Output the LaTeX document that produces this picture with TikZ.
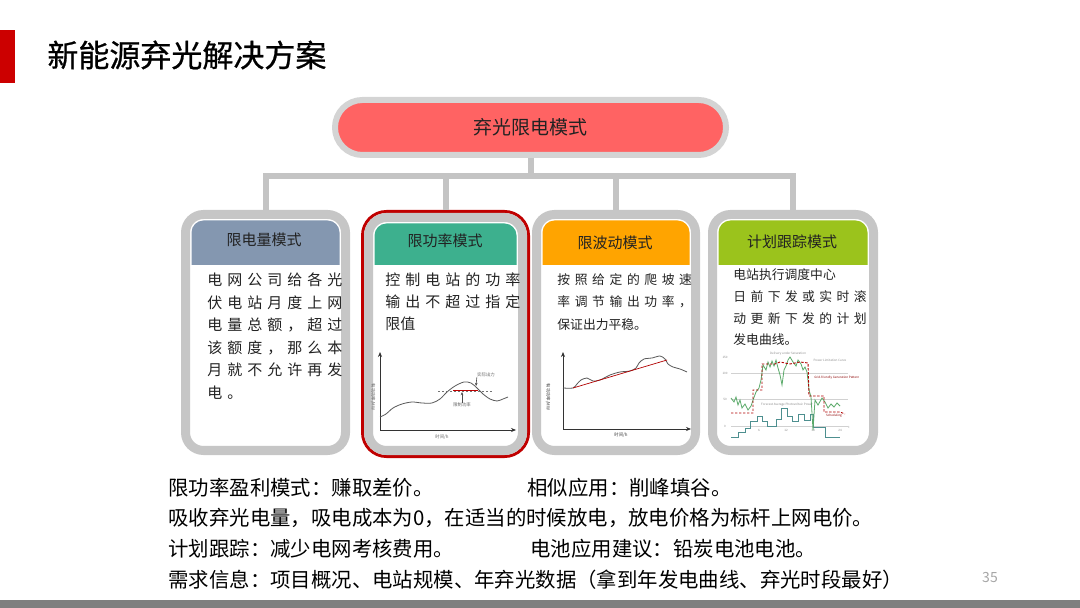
\documentclass[tikz,border=0pt]{standalone}
\usepackage{fontspec}
\setmainfont{Noto Sans CJK SC}
\newfontfamily\titlefont[FakeBold=0.8]{Noto Sans CJK SC}
\usetikzlibrary{arrows.meta,calc}
\definecolor{pillred}{HTML}{FF6363}
\definecolor{pillgray}{HTML}{D4D4D4}
\definecolor{boxgray}{HTML}{C6C6C6}
\definecolor{conngray}{HTML}{C4C4C4}
\definecolor{frameRed}{HTML}{C00000}
\definecolor{hA}{HTML}{8497B0}
\definecolor{hB}{HTML}{3DB08E}
\definecolor{hC}{HTML}{FFA400}
\definecolor{hD}{HTML}{9BC31C}
\definecolor{titlebar}{HTML}{CC0000}
\definecolor{bottombar}{HTML}{7F7F7F}
\definecolor{pagenum}{HTML}{A6A6A6}
\definecolor{txt}{HTML}{222222}
\definecolor{plangreen}{HTML}{5BAA6A}
\definecolor{stepteal}{HTML}{4D8F8F}
\newlength\spw
\def\spreadline#1#2{\spw=#1\relax\spreadi#2\relax}
\def\spreadi#1{\ifx\relax#1\else\makebox[\spw][l]{#1}\expandafter\spreadi\fi}
\begin{document}
\begin{tikzpicture}[x=0.5pt,y=-0.5pt,
  pill/.style={draw=pillgray, fill=pillred, line width=3pt, rounded corners=13.7pt,
    minimum width=195.5pt, minimum height=27.5pt, inner sep=0pt, text=txt,
    font=\fontsize{9.5}{11}\selectfont},
  modebox/.style={draw=boxgray, fill=white, line width=4.5pt, rounded corners=9pt,
    minimum width=#1, minimum height=118pt, inner sep=0pt},
  redframe/.style={draw=frameRed, line width=1.5pt, rounded corners=12pt,
    minimum width=83pt, minimum height=122.5pt, inner sep=0pt},
  conn/.style={draw=conngray, line width=3pt},
  hdrtext/.style={inner sep=0pt, text=txt, font=\fontsize{7.5}{9}\selectfont},
  bodyA/.style={anchor=west, inner sep=0pt, text=txt, font=\fontsize{7.5}{9}\selectfont},
  bodyB/.style={anchor=west, inner sep=0pt, text=txt, font=\fontsize{6.4}{8}\selectfont},
  btext/.style={anchor=west, inner sep=0pt, text=black, font=\fontsize{10.2}{12}\selectfont},
  axis/.style={draw=black!80, line width=0.35pt, -{Stealth[length=2.5pt,width=2pt]}},
  curve/.style={draw=black!65, line width=0.4pt},
  tiny/.style={inner sep=0pt, text=black!60, font=\fontsize{2.2}{2.6}\selectfont},
  micro/.style={inner sep=0pt, text=black!45, font=\fontsize{1.5}{1.8}\selectfont},
  fine dash/.style={dash pattern=on 1.2pt off 0.8pt},
]
\useasboundingbox (0,0) rectangle (1080,608);
% title and page decorations
\fill[titlebar] (0,30) rectangle (15,83);
\node[anchor=west, inner sep=0pt, text=black, font=\titlefont\fontsize{15.5}{18}\selectfont] (title) at (47,55) {新能源弃光解决方案};
\fill[bottombar] (0,600) rectangle (1080,608);
\node[inner sep=0pt, text=pagenum, font=\fontsize{7}{8}\selectfont] (page) at (990,578) {35};

% top node
\node[pill] (top) at (530.5,127.5) {弃光限电模式};

% boxes
\node[modebox=80pt] (b1) at (265.5,332.5) {};
\node[redframe] (b2) at (445.5,334) {};
\node[modebox=77pt, minimum height=116.5pt] (b2in) at (445.5,334) {};
\node[modebox=79.5pt] (b3) at (616,332.5) {};
\node[modebox=80.5pt] (b4) at (793,332.5) {};

% headers
\begin{scope}
\clip[rounded corners=6pt] ($(b1.north west)+(10.5,10.5)$) rectangle ($(b1.south east)+(-10.5,-10.5)$);
\fill[hA] (b1.north west) rectangle (b1.east |- 0,265);
\end{scope}
\begin{scope}
\clip[rounded corners=6pt] ($(b2in.north west)+(10.5,10.5)$) rectangle ($(b2in.south east)+(-10.5,-10.5)$);
\fill[hB] (b2in.north west) rectangle (b2in.east |- 0,265);
\end{scope}
\begin{scope}
\clip[rounded corners=6pt] ($(b3.north west)+(10.5,10.5)$) rectangle ($(b3.south east)+(-10.5,-10.5)$);
\fill[hC] (b3.north west) rectangle (b3.east |- 0,265);
\end{scope}
\begin{scope}
\clip[rounded corners=6pt] ($(b4.north west)+(10.5,10.5)$) rectangle ($(b4.south east)+(-10.5,-10.5)$);
\fill[hD] (b4.north west) rectangle (b4.east |- 0,265);
\end{scope}
\node[hdrtext] (h1) at (264,240) {限电量模式};
\node[hdrtext] (h2) at (445,241) {限功率模式};
\node[hdrtext] (h3) at (615,243) {限波动模式};
\node[hdrtext] (h4) at (792,242) {计划跟踪模式};

% connectors
\coordinate (bar) at (530.5,176);
\draw[conn] (top.south) -- (bar);
\draw[conn] (bar) -| (b1.north);
\draw[conn] (bar) -| (b2.north);
\draw[conn] (bar) -| (b3.north);
\draw[conn] (bar) -| (b4.north);

% body texts box 1
\node[bodyA] (t11) at (207,280) {\spreadline{10pt}{电网公司给各光}};
\node[bodyA] (t12) at (207,302.5) {\spreadline{10pt}{伏电站月度上网}};
\node[bodyA] (t13) at (207,325) {\spreadline{10pt}{电量总额，超过}};
\node[bodyA] (t14) at (207,347.5) {\spreadline{10pt}{该额度，那么本}};
\node[bodyA] (t15) at (207,370) {\spreadline{10pt}{月就不允许再发}};
\node[bodyA] (t16) at (207,392.5) {\spreadline{10pt}{电。}};
% box 2
\node[bodyA] (t21) at (385,280) {\spreadline{10pt}{控制电站的功率}};
\node[bodyA] (t22) at (385,302) {\spreadline{10pt}{输出不超过指定}};
\node[bodyA] (t23) at (385,324) {限值};
% box 3
\node[bodyB] (t31) at (557,280) {\spreadline{8.7pt}{按照给定的爬坡速}};
\node[bodyB] (t32) at (557,302) {\spreadline{8.7pt}{率调节输出功率，}};
\node[bodyB] (t33) at (557,325) {保证出力平稳。};
% box 4
\node[bodyB] (t41) at (733,275) {电站执行调度中心};
\node[bodyB] (t42) at (733,297) {\spreadline{8.6pt}{日前下发或实时滚}};
\node[bodyB] (t43) at (733,318.5) {\spreadline{8.6pt}{动更新下发的计划}};
\node[bodyB] (t44) at (733,340) {发电曲线。};

% chart box 2
\draw[axis] (380,430) -- (380,352);
\draw[axis] (380,430) -- (516,430);
\draw[curve] plot[smooth] coordinates {(380,417) (386,414) (393,408) (402,404) (412,402) (422,403) (432,403) (440,399) (447,392) (455,386) (464,382) (471,383) (477,388) (483,394) (490,399) (497,401) (503,399) (508,397)};
\draw[fine dash, black!55, line width=0.3pt] (438,391) -- (493,391);
\draw[draw=red!75!black, line width=0.5pt] (453,391) -- (478,391);
\node[tiny] (l21) at (486,375) {实际出力};
\node[tiny] (l22) at (462,405) {限制功率};
\draw[black!70, line width=0.3pt, -{Stealth[length=1.6pt,width=1.3pt]}] (l21.south west) -- (476,386);
\draw[black!70, line width=0.3pt, -{Stealth[length=1.6pt,width=1.3pt]}] (l22.north) -- (462,392);
\node[tiny, rotate=-90] (l23) at (373,397) {有功功率/MW};
\node[tiny] (l24) at (442,437) {时间/h};

% chart box 3
\draw[axis] (563,429) -- (563,352);
\draw[axis] (563,429) -- (691,429);
\draw[curve] plot[smooth, tension=0.5] coordinates {(563,388) (573,388) (577,384) (581,380) (587,378) (593,381) (600,380) (610,375) (620,372) (630,371) (636,368) (639,363) (644,359) (652,358) (660,356) (665,359) (668,364) (673,367) (680,369) (687,372)};
\draw[draw=red!70!black, line width=0.35pt] (573,388) -- (667,360);
\node[tiny, rotate=-90, text=black!75] (l31) at (548,397) {有功功率/MW};
\node[tiny, text=black!75] (l32) at (621,435) {时间/h};

% chart box 4
\foreach \yy in {373,399,426} \draw[black!18, line width=0.25pt] (731,\yy) -- (848,\yy);
\node[micro] (y1) at (725,357) {150};
\node[micro] (y2) at (725,373) {100};
\node[micro] (y3) at (725,399) {50};
\node[micro] (y4) at (725,426) {0};
\node[micro] (x1) at (759,430) {6};
\node[micro] (x2) at (786,430) {12};
\node[micro] (x3) at (813,430) {18};
\node[micro] (x4) at (840,430) {24};
\node[micro] (x5) at (849,427) {t};
\draw[stepteal, line width=0.45pt] (731,437) -- (738,437) -- (738,432) -- (745,432) -- (745,428) -- (750,428) -- (750,421) -- (757,421) -- (757,416) -- (762,416) -- (762,421) -- (767,421) -- (767,426) -- (776,426) -- (776,419) -- (781,419) -- (781,408) -- (787,408) -- (787,416) -- (792,416) -- (792,421) -- (798,421) -- (798,414) -- (804,414) -- (804,420) -- (810,420) -- (810,414) -- (813,414) -- (813,427) -- (825,427) -- (825,437) -- (840,437);
\draw[plangreen, line width=0.4pt] (731,398) -- (734,402) -- (736,397) -- (738,405) -- (740,400) -- (742,408) -- (745,404) -- (748,410) -- (751,406) -- (753,400) -- (756,392) -- (759,388) -- (761,380) -- (763,365) -- (766,370) -- (768,362) -- (770,367) -- (772,361) -- (774,366) -- (776,360) -- (778,368) -- (780,375) -- (782,385) -- (784,370) -- (786,366) -- (788,360) -- (790,357) -- (793,362) -- (796,366) -- (798,360) -- (801,364) -- (803,370) -- (805,367) -- (807,372) -- (809,390) -- (811,397) -- (813,430) -- (815,400) -- (818,405) -- (822,398) -- (825,402) -- (828,408) -- (831,404) -- (834,407) -- (837,403) -- (840,406);
\draw[red!70!black, line width=0.45pt, fine dash] (731,413) -- (753,413) -- (753,390) -- (762,390) -- (762,364) -- (775,364) -- (780,362) -- (790,364) -- (800,362) -- (808,363) -- (809,396) -- (824,396) -- (824,412) -- (840,412) -- (845,414);
\node[micro] (c1) at (788,354) {Delivery under Saturation};
\node[micro] (c2) at (830,360) {Power Limitation Curve};
\node[micro, text=red!55!black, anchor=west] (c3) at (814,378) {Grid-friendly Generation Pattern};
\node[micro] (c4) at (787,405) {Forecast Average Photovoltaic Power};
\node[micro, text=red!55!black] (c5) at (834,416) {Scheduling};

% bottom texts
\node[btext] (m1) at (168,488) {限功率盈利模式：赚取差价。};
\node[btext] (m2) at (527,488) {相似应用：削峰填谷。};
\node[btext] (m3) at (168,518) {吸收弃光电量，吸电成本为0，在适当的时候放电，放电价格为标杆上网电价。};
\node[btext] (m4) at (168,549) {计划跟踪：减少电网考核费用。};
\node[btext] (m5) at (530,549) {电池应用建议：铅炭电池电池。};
\node[btext] (m6) at (168,580) {需求信息：项目概况、电站规模、年弃光数据（拿到年发电曲线、弃光时段最好）};
\end{tikzpicture}
\end{document}
